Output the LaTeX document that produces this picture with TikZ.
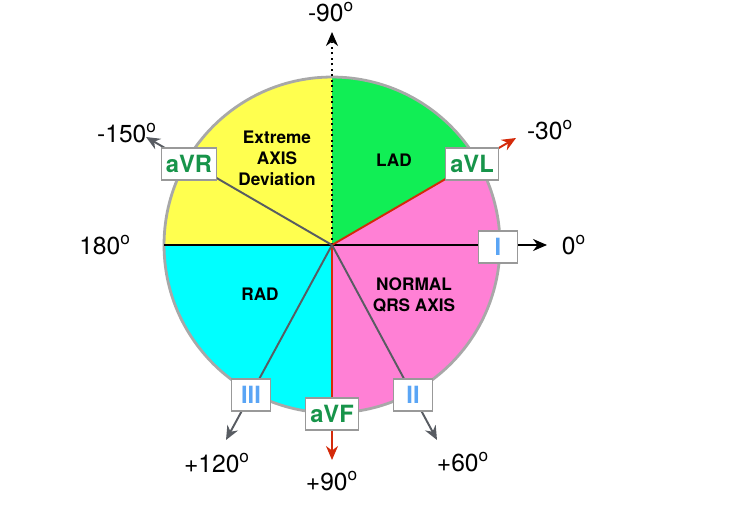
\documentclass[tikz,border=0pt]{standalone}
\usepackage{fontspec}
\setmainfont{TeX Gyre Heros}
\usetikzlibrary{arrows.meta, positioning}
\definecolor{secY}{HTML}{FFFF4F}
\definecolor{secG}{HTML}{11EE55}
\definecolor{secP}{HTML}{FF80D5}
\definecolor{secC}{HTML}{00FFFF}
\definecolor{leadG}{HTML}{17944A}
\definecolor{leadB}{HTML}{5AA5F5}
\definecolor{leadR}{HTML}{D42A0A}
\definecolor{leadK}{HTML}{585C62}
\definecolor{rim}{HTML}{A8A8A8}
\begin{document}
\begin{tikzpicture}[
    x=0.02cm, y=0.02cm,
    sektor/.style={font=\fontsize{9.8}{12}\selectfont\bfseries, align=center},
    kotak/.style={draw=gray!80, fill=white, line width=0.6pt, minimum height=0.64cm,
                  minimum width=0.78cm, inner xsep=2.5pt,
                  font=\fontsize{13.5}{14}\selectfont\bfseries},
    augm/.style={kotak, text=leadG},
    limb/.style={kotak, text=leadB},
    derajat/.style={font=\fontsize{14}{16}\selectfont},
    sadap/.style={line width=1.1pt, -{Stealth[length=2.8mm, width=2.4mm]}}
  ]
    \useasboundingbox (0,0) rectangle (733,504);
    \coordinate (O) at (332,259);
    % sectors
    \fill[secY] (O) -- ++(180:3.36cm) arc[start angle=180, end angle=90, radius=3.36cm] -- cycle;
    \fill[secG] (O) -- ++(90:3.36cm) arc[start angle=90, end angle=30, radius=3.36cm] -- cycle;
    \fill[secP] (O) -- ++(30:3.36cm) arc[start angle=30, end angle=-90, radius=3.36cm] -- cycle;
    \fill[secC] (O) -- ++(-90:3.36cm) arc[start angle=-90, end angle=-180, radius=3.36cm] -- cycle;
    \draw[rim, line width=1.6pt] (O) circle[radius=3.36cm];

    \node[sektor] (ead) at (277,346) {Extreme\\AXIS\\Deviation};
    \node[sektor] (lad) at (394,344) {LAD};
    \node[sektor] (rad) at (260,210) {RAD};
    \node[sektor] (nrm) at (414,209) {NORMAL\\QRS AXIS};

    % lead directions
    \coordinate (cW) at ([shift={(180:3.36cm)}]O);
    \coordinate (tN) at (332,472);
    \coordinate (tI) at (547,259);
    \coordinate (tL) at (516,366);
    \coordinate (tR) at (146,367);
    \coordinate (tII) at (437,64);
    \coordinate (tIII) at (226,64);
    \coordinate (tF) at (332,44);
    \draw[line width=1.1pt] (cW) -- (O);
    \draw[sadap, dotted, line cap=butt] (O) -- (tN);
    \draw[sadap, black] (O) -- (tI);
    \draw[sadap, leadR] (O) -- (tL);
    \draw[sadap, leadR] (O) -- (tF);
    \foreach \t in {tR, tII, tIII}
      \draw[sadap, leadK] (O) -- (\t);

    % lead boxes
    \node[augm] (aVR) at (189,340) {aVR};
    \node[augm] (aVL) at (472,340) {aVL};
    \node[augm] (aVF) at (332,90) {aVF};
    \node[limb] (I) at (498,257) {I};
    \node[limb] (II) at (413,109) {II};
    \node[limb] (III) at (251,109) {III};

    % angles
    \foreach \x/\y/\s in {331/492/-90, 550/374/-30, 574/259/0, 463/42/+60,
                          332/23/+90, 217/41/+120, 105/259/180, 127/371/-150}
      \node[derajat] at (\x,\y) {\s\textsuperscript{o}};
  \end{tikzpicture}
\end{document}
